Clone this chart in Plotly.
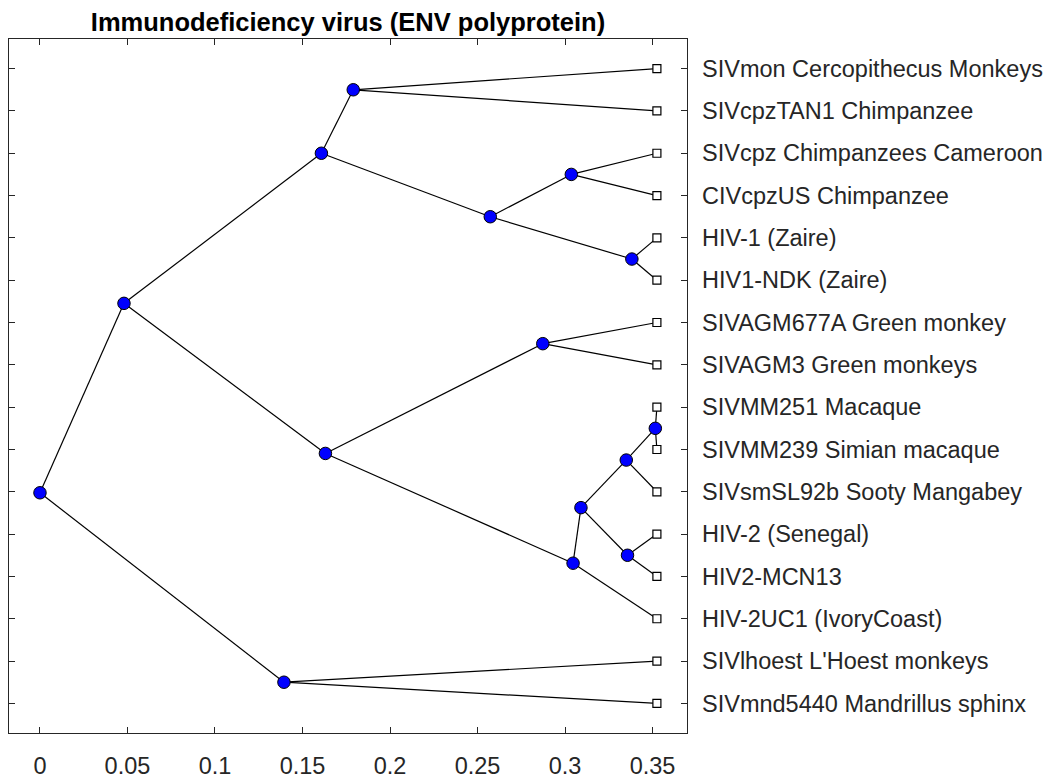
import plotly.graph_objects as go

# ---------------- data ----------------
leaf_names = [
    "SIVmon Cercopithecus Monkeys",
    "SIVcpzTAN1 Chimpanzee",
    "SIVcpz Chimpanzees Cameroon",
    "CIVcpzUS Chimpanzee",
    "HIV-1 (Zaire)",
    "HIV1-NDK (Zaire)",
    "SIVAGM677A Green monkey",
    "SIVAGM3 Green monkeys",
    "SIVMM251 Macaque",
    "SIVMM239 Simian macaque",
    "SIVsmSL92b Sooty Mangabey",
    "HIV-2 (Senegal)",
    "HIV2-MCN13",
    "HIV-2UC1 (IvoryCoast)",
    "SIVlhoest L'Hoest monkeys",
    "SIVmnd5440 Mandrillus sphinx",
]
# distance from root of every leaf (ultrametric tree)
leaf_dist = [0.3525] * 16

# branch nodes (numbered 17..31 after the 16 leaves), children given by node number
branch_children = [
    [1, 2],     # 17
    [3, 4],     # 18
    [5, 6],     # 19
    [18, 19],   # 20
    [17, 20],   # 21
    [7, 8],     # 22
    [9, 10],    # 23
    [23, 11],   # 24
    [12, 13],   # 25
    [24, 25],   # 26
    [26, 14],   # 27
    [22, 27],   # 28
    [21, 28],   # 29
    [15, 16],   # 30
    [29, 30],   # 31 (root)
]
# distance from root of every branch node
branch_dist = [0.1790, 0.3036, 0.3382, 0.2573, 0.1608, 0.2873, 0.3516,
               0.3350, 0.3357, 0.3091, 0.3046, 0.1631, 0.0480, 0.1394, 0.0]

x_ticks = [0, 0.05, 0.1, 0.15, 0.2, 0.25, 0.3, 0.35]
x_tick_labels = ["0", "0.05", "0.1", "0.15", "0.2", "0.25", "0.3", "0.35"]
title_text = "Immunodeficiency virus (ENV polyprotein)"

# ---------------- layout of the tree ----------------
n_leaves = len(leaf_names)
xpos = {i + 1: leaf_dist[i] for i in range(n_leaves)}
ypos = {i + 1: float(i + 1) for i in range(n_leaves)}
for k, (ch, d) in enumerate(zip(branch_children, branch_dist)):
    node = n_leaves + 1 + k
    xpos[node] = d
    ypos[node] = sum(ypos[c] for c in ch) / len(ch)

ex, ey = [], []
for k, ch in enumerate(branch_children):
    node = n_leaves + 1 + k
    for c in ch:
        ex += [xpos[node], xpos[c], None]
        ey += [ypos[node], ypos[c], None]

branch_nodes = [n_leaves + 1 + k for k in range(len(branch_children))]
leaf_nodes = list(range(1, n_leaves + 1))

AX = "#262626"
FONT = "Liberation Sans, Arial, Helvetica, sans-serif"
FS = 23.5

W, H = 1047, 772  # page body has an 8px margin

fig = go.Figure()
fig.add_trace(go.Scatter(x=ex, y=ey, mode="lines",
                         line=dict(color="black", width=1.2),
                         hoverinfo="skip", showlegend=False))
fig.add_trace(go.Scatter(x=[xpos[n] for n in branch_nodes], y=[ypos[n] for n in branch_nodes],
                         mode="markers",
                         marker=dict(symbol="circle", size=12.5, color="#0000ff",
                                     line=dict(color="black", width=1)),
                         showlegend=False))
fig.add_trace(go.Scatter(x=[xpos[n] for n in leaf_nodes], y=[ypos[n] for n in leaf_nodes],
                         mode="markers",
                         marker=dict(symbol="square", size=8, color="white",
                                     line=dict(color="black", width=1.2)),
                         text=leaf_names, showlegend=False))
# invisible trace so the right-hand label axis is drawn
fig.add_trace(go.Scatter(x=[xpos[n] for n in leaf_nodes], y=[ypos[n] for n in leaf_nodes],
                         yaxis="y2", mode="markers", marker=dict(opacity=0),
                         hoverinfo="skip", showlegend=False))

yr = [16.7, 0.3]
ml, mr, mt, mb = 1, 368, 31, 43
fig.update_layout(
    width=W, height=H,
    margin=dict(l=ml, r=mr, t=mt, b=mb),
    paper_bgcolor="white", plot_bgcolor="white",
    font=dict(family=FONT, size=FS, color=AX),
    title=dict(text="<b>" + title_text + "</b>", x=(ml + (W - mr)) / 2 / W, xanchor="center",
               y=1 - 14 / H, yanchor="middle", yref="container",
               font=dict(family=FONT, size=25.5, color="black")),
    xaxis=dict(range=[-0.0177, 0.3697], tickvals=x_ticks, ticktext=x_tick_labels,
               ticks="inside", ticklen=6, tickcolor=AX, showline=True, linecolor=AX,
               linewidth=1, mirror="ticks", showgrid=False, zeroline=False,
               ticklabelstandoff=12),
    yaxis=dict(range=yr, tickvals=list(range(1, n_leaves + 1)), showticklabels=False,
               ticks="inside", ticklen=6, tickcolor=AX, showline=True, linecolor=AX,
               linewidth=1, mirror="ticks", showgrid=False, zeroline=False),
    yaxis2=dict(range=yr, overlaying="y", side="right", tickvals=list(range(1, n_leaves + 1)),
                ticktext=leaf_names, ticks="", showline=False, showgrid=False,
                zeroline=False, ticklabelstandoff=14),
)

fig.write_html("out.html")
